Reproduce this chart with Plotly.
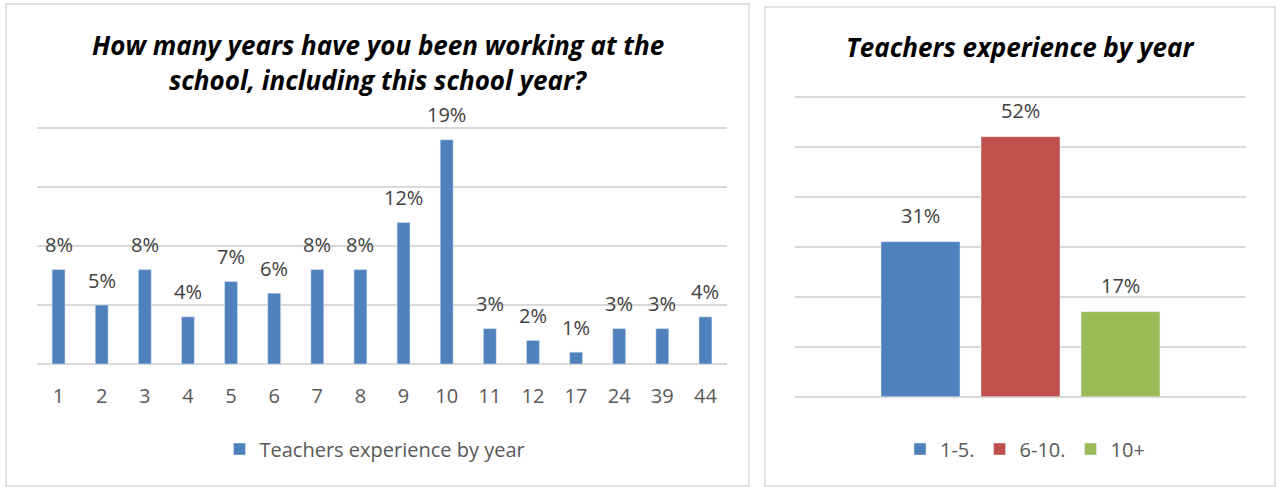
import plotly.graph_objects as go

# ---------------- data ----------------
years = ["1", "2", "3", "4", "5", "6", "7", "8", "9", "10", "11", "12", "17", "24", "39", "44"]
year_pct = [8, 5, 8, 4, 7, 6, 8, 8, 12, 19, 3, 2, 1, 3, 3, 4]
left_series = "Teachers experience by year"

groups = ["1-5.", "6-10.", "10+"]
group_pct = [31, 52, 17]
group_colors = ["#4F81BD", "#C0504D", "#9BBB59"]

left_title_lines = ["How many years have you been working at the",
                    "school, including this school year?"]
right_title = "Teachers experience by year"

# ---------------- layout helpers ----------------
W, H = 1277, 487
def px(x):
    return x / W
def py(y):
    return 1 - y / H

FONT = "Open Sans, Lato, sans-serif"
GRID = "#d9d9d9"
LABEL = "#404040"
TICK = "#595959"
TXT = 20

fig = go.Figure()

fig.add_trace(go.Bar(
    x=years, y=year_pct, name=left_series, marker_color="#4F81BD",
    width=0.3, xaxis="x", yaxis="y", legend="legend",
))

for g, v, c in zip(groups, group_pct, group_colors):
    fig.add_trace(go.Bar(
        x=[g], y=[v], name=g, marker_color=c, width=0.79,
        xaxis="x2", yaxis="y2", legend="legend2",
    ))

annotations = []
for i, v in enumerate(year_pct):
    annotations.append(dict(x=i, y=v, xref="x", yref="y", text=f"{v}%",
                            showarrow=False, yanchor="middle", yshift=25,
                            font=dict(family=FONT, size=TXT, color=LABEL)))
for i, v in enumerate(group_pct):
    annotations.append(dict(x=i, y=v, xref="x2", yref="y2", text=f"{v}%",
                            showarrow=False, yanchor="middle", yshift=26,
                            font=dict(family=FONT, size=TXT, color=LABEL)))

title_font = dict(family=FONT, size=26, color="#000000", weight="bold", style="italic")
annotations.append(dict(x=px(377.5), y=py(45), xref="paper", yref="paper",
                        text=left_title_lines[0], showarrow=False,
                        xanchor="center", yanchor="middle", font=title_font))
annotations.append(dict(x=px(377.5), y=py(80), xref="paper", yref="paper",
                        text=left_title_lines[1], showarrow=False,
                        xanchor="center", yanchor="middle", font=title_font))
annotations.append(dict(x=px(1020.5), y=py(47), xref="paper", yref="paper",
                        text=right_title, showarrow=False,
                        xanchor="center", yanchor="middle", font=title_font))

shapes = [
    dict(type="rect", xref="paper", yref="paper",
         x0=px(6), x1=px(749), y0=py(486), y1=py(4),
         line=dict(color=GRID, width=1.5), layer="below"),
    dict(type="rect", xref="paper", yref="paper",
         x0=px(765), x1=px(1275), y0=py(486), y1=py(7),
         line=dict(color=GRID, width=1.5), layer="below"),
]

fig.update_layout(
    width=W, height=H,
    margin=dict(l=0, r=0, t=0, b=0),
    paper_bgcolor="white", plot_bgcolor="white",
    barmode="overlay",
    font=dict(family=FONT, color=TICK),
    annotations=annotations,
    shapes=shapes,
    showlegend=True,
    xaxis=dict(domain=[px(37), px(727)], type="category", range=[-0.5, 15.5],
               dtick=1, showgrid=False, showline=False, zeroline=False,
               ticks="outside", ticklen=14, tickcolor="rgba(0,0,0,0)",
               tickfont=dict(family=FONT, size=TXT, color=TICK)),
    yaxis=dict(domain=[py(364), py(125.64)], range=[0, 20.2], dtick=5,
               showticklabels=False, showgrid=True, gridcolor=GRID, gridwidth=1.5,
               zeroline=True, zerolinecolor=GRID, zerolinewidth=1.5, anchor="x"),
    xaxis2=dict(domain=[px(795), px(1246)], type="category",
                range=[-1.255, 3.255], anchor="y2",
                showticklabels=False, showgrid=False, showline=False, zeroline=False),
    yaxis2=dict(domain=[py(396.7), py(94.2)], range=[0, 60.5], dtick=10, anchor="x2",
                showticklabels=False, showgrid=True, gridcolor=GRID, gridwidth=1.5,
                zeroline=True, zerolinecolor=GRID, zerolinewidth=1.5),
    legend=dict(orientation="h", x=px(375), xanchor="center", y=py(449), yanchor="middle",
                font=dict(family=FONT, size=TXT, color=TICK), bgcolor="rgba(0,0,0,0)"),
    legend2=dict(orientation="h", x=px(1025), xanchor="center", y=py(449), yanchor="middle",
                 font=dict(family=FONT, size=TXT, color=TICK), bgcolor="rgba(0,0,0,0)"),
)

fig.write_html("out.html", config={"displayModeBar": False},
               post_script="document.body.style.margin='0';")
